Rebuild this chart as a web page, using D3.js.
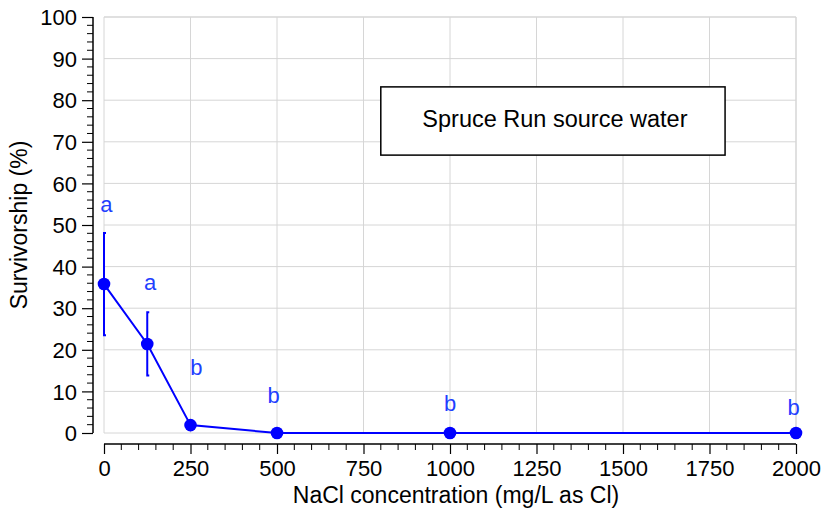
<!DOCTYPE html>
<html>
<head>
<meta charset="utf-8">
<script src="https://cdn.jsdelivr.net/npm/d3@7"></script>
<style>
  html, body { margin: 0; padding: 0; background: #fff; }
  svg { display: block; font-family: "Liberation Sans", Arial, Helvetica, sans-serif; }
</style>
</head>
<body>
<svg id="chart" width="823" height="512"></svg>
<script>
// NaCl concentration (mg/L as Cl)
const concentrations = [0, 125, 250, 500, 1000, 2000];
// Mean survivorship (%)
const survivorship = [35.8, 21.4, 1.9, 0, 0, 0];
// Error (± %), null where no bar is drawn
const errors = [12.3, 7.6, null, null, null, null];
// Significance letters and the data position they sit at
const groupLetters = ["a", "a", "b", "b", "b", "b"];
const letterX = [7, 133, 267, 490, 1000, 1993];
const letterY = [53.1, 34.4, 13.9, 7.2, 5.3, 4.3];

const xMajorTicks = [0, 250, 500, 750, 1000, 1250, 1500, 1750, 2000];
const yMajorTicks = [0, 10, 20, 30, 40, 50, 60, 70, 80, 90, 100];

const xTitle = "NaCl concentration (mg/L as Cl)";
const yTitle = "Survivorship (%)";
const panelTitle = "Spruce Run source water";

const svg = d3.select("#chart");
const plot = { left: 104, right: 796, top: 17, bottom: 433 };

const x = d3.scaleLinear().domain([0, 2000]).range([plot.left, plot.right]);
const y = d3.scaleLinear().domain([0, 100]).range([plot.bottom, plot.top]);

const gridColor = "#d6d6d6";
const blue = "#0000ff";
const letterBlue = "#1f3fff";

// Grid
const grid = svg.append("g");
grid.selectAll("line.v").data(xMajorTicks).join("line")
  .attr("x1", d => x(d)).attr("x2", d => x(d))
  .attr("y1", plot.top).attr("y2", plot.bottom)
  .attr("stroke", gridColor).attr("stroke-width", d => d === 2000 ? 1.5 : 1);
grid.selectAll("line.h").data(yMajorTicks).join("line")
  .attr("x1", plot.left).attr("x2", plot.right)
  .attr("y1", d => y(d)).attr("y2", d => y(d))
  .attr("stroke", gridColor).attr("stroke-width", d => d === 100 ? 1.5 : 1);

// Y axis, offset to the left of the plot
const yAxisX = 93;
const yAxis = d3.axisLeft(y).tickValues(yMajorTicks).tickSize(11).tickPadding(5).tickFormat(d3.format("d"));
const gy = svg.append("g").attr("transform", `translate(${yAxisX},0)`).call(yAxis);
gy.select(".domain").attr("d", `M0,${plot.top}V${plot.bottom}`).attr("stroke-width", 1.5);
gy.selectAll(".tick line").attr("stroke-width", 1.2);
gy.selectAll(".tick text").attr("font-size", 22).attr("font-family", null).attr("dy", "0.35em");
const yMinor = d3.range(0, 101, 2).filter(v => v % 10 !== 0);
gy.selectAll("line.minor").data(yMinor).join("line")
  .attr("x1", -6).attr("x2", 0)
  .attr("y1", d => y(d)).attr("y2", d => y(d))
  .attr("stroke", "#000").attr("stroke-width", 1);

// X axis, offset below the plot
const xAxisY = 444;
const xAxis = d3.axisBottom(x).tickValues(xMajorTicks).tickSize(10).tickPadding(6).tickFormat(d3.format("d"));
const gx = svg.append("g").attr("transform", `translate(0,${xAxisY})`).call(xAxis);
gx.select(".domain").attr("d", `M${plot.left},0H${plot.right}`).attr("stroke-width", 1.5);
gx.selectAll(".tick line").attr("stroke-width", 1.2);
gx.selectAll(".tick text").attr("font-size", 22).attr("font-family", null).attr("dy", "0.71em");
const xMinor = d3.range(0, 2001, 50).filter(v => v % 250 !== 0);
gx.selectAll("line.minor").data(xMinor).join("line")
  .attr("x1", d => x(d)).attr("x2", d => x(d))
  .attr("y1", 0).attr("y2", 6)
  .attr("stroke", "#000").attr("stroke-width", 1);

// Axis titles
svg.append("text")
  .attr("x", 456).attr("y", 503)
  .attr("text-anchor", "middle").attr("font-size", 23)
  .text(xTitle);
svg.append("text")
  .attr("transform", `translate(27,${(plot.top + plot.bottom) / 2}) rotate(-90)`)
  .attr("text-anchor", "middle").attr("font-size", 23)
  .text(yTitle);

// Panel title box
const box = { x0: 800, x1: 1795, y0: 83.2, y1: 66.8 };
svg.append("rect")
  .attr("x", x(box.x0)).attr("y", y(box.y0))
  .attr("width", x(box.x1) - x(box.x0)).attr("height", y(box.y1) - y(box.y0))
  .attr("fill", "#fff").attr("stroke", "#000").attr("stroke-width", 1.5);
svg.append("text")
  .attr("x", (x(box.x0) + x(box.x1)) / 2 + 2).attr("y", 127)
  .attr("text-anchor", "middle").attr("font-size", 23.5)
  .text(panelTitle);

// Data series
const points = concentrations.map((c, i) => ({ c, v: survivorship[i], e: errors[i] }));

const eb = svg.append("g").attr("stroke", blue).attr("stroke-width", 2).attr("fill", "none");
points.filter(p => p.e != null).forEach(p => {
  const cx = x(p.c), top = y(p.v + p.e), bot = y(p.v - p.e);
  eb.append("path").attr("d", `M${cx + 2},${top}H${cx}V${bot}H${cx + 2}`);
});

svg.append("path")
  .datum(points)
  .attr("fill", "none").attr("stroke", blue).attr("stroke-width", 2)
  .attr("d", d3.line().x(d => x(d.c)).y(d => y(d.v)));

svg.append("g").selectAll("circle").data(points).join("circle")
  .attr("cx", d => x(d.c)).attr("cy", d => y(d.v)).attr("r", 6.3)
  .attr("fill", blue);

// Significance letters
svg.append("g").selectAll("text").data(groupLetters).join("text")
  .attr("x", (d, i) => x(letterX[i])).attr("y", (d, i) => y(letterY[i]))
  .attr("text-anchor", "middle").attr("font-size", 22).attr("fill", letterBlue)
  .text(d => d);
</script>
</body>
</html>
